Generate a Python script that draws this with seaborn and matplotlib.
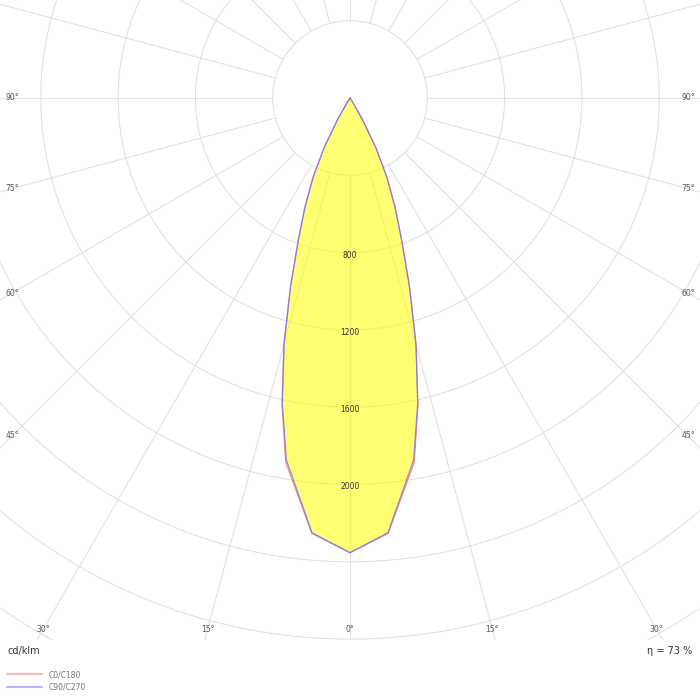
import numpy as np
import pandas as pd
import matplotlib
matplotlib.use("Agg")
import matplotlib.pyplot as plt
import seaborn as sns

# luminous intensity (cd/klm) per gamma angle
gamma = [0, 5, 10, 12.5, 15, 17.5, 20, 22.5, 25, 27.5, 30, 32.5, 35, 45, 60, 75, 90]
c0_c180 = [2353, 2262, 1915, 1625, 1322, 1025, 782, 608, 452, 290, 128, 25, 0, 0, 0, 0, 0]
c90_c270 = [2353, 2258, 1900, 1618, 1318, 1023, 780, 606, 450, 289, 127, 25, 0, 0, 0, 0, 0]

grid_circles = [400, 800, 1200, 1600, 2000, 2400, 2800, 3200, 3600]
radial_labels = [800, 1200, 1600, 2000]
angle_labels = [0, 15, 30, 45, 60, 75, 90]
unit_text = "cd/klm"
eta_text = "η = 73 %"

sns.set_style("white")
plt.rcParams["font.family"] = ["DejaVu Sans"]

W, H = 700, 700
cx, cy = 350, 98          # pole position in pixels
bottom_px = 640           # bottom of the plot area
s = 77.3 / 400            # pixels per cd/klm

fig = plt.figure(figsize=(7, 7), dpi=100)
ax = fig.add_axes([0, (H - bottom_px) / H, 1, bottom_px / H])
ax.set_xlim(-cx / s, (W - cx) / s)
ax.set_ylim(-(bottom_px - cy) / s, cy / s)
ax.axis("off")

grid_col = "#e0e0e0"
t = np.linspace(0, 2 * np.pi, 400)
for r in grid_circles:
    ax.plot(r * np.cos(t), r * np.sin(t), color=grid_col, lw=0.75, zorder=1)
for a in range(0, 360, 15):
    ar = np.radians(a)
    ax.plot([400 * np.sin(ar), 5000 * np.sin(ar)],
            [-400 * np.cos(ar), -5000 * np.cos(ar)],
            color=grid_col, lw=0.75, zorder=1)


def curve(values):
    g = np.radians(np.array(gamma, dtype=float))
    v = np.array(values, dtype=float)
    # left half (C180 / C270) then right half (C0 / C90)
    x = np.concatenate([-v[::-1] * np.sin(g[::-1]), v * np.sin(g)])
    y = np.concatenate([-v[::-1] * np.cos(g[::-1]), -v * np.cos(g)])
    return x, y


rows = []
for name, vals in [("C0/C180", c0_c180), ("C90/C270", c90_c270)]:
    x, y = curve(vals)
    rows.append(pd.DataFrame({"x": x, "y": y, "plane": name}))
df = pd.concat(rows, ignore_index=True)

fx, fy = curve(c0_c180)
ax.fill(fx, fy, color="#ffff00", alpha=0.55, lw=0, zorder=2)

sns.lineplot(data=df, x="x", y="y", hue="plane", sort=False, estimator=None,
             palette={"C0/C180": "#ff7070", "C90/C270": "#7070ff"},
             lw=0.9, alpha=0.8, ax=ax, zorder=3)

for v in radial_labels:
    ax.text(0, -(v + 2.5 / s), str(v), ha="center", va="center",
            fontsize=5.5, color="#333333", zorder=4)

# angle labels where each ray meets the inset frame
for a in angle_labels:
    ar = np.radians(a)
    sides = [1] if a == 0 else [-1, 1]
    for sd in sides:
        cand = []
        if np.sin(ar) > 1e-9:
            cand.append(338 / np.sin(ar))
        if np.cos(ar) > 1e-9:
            cand.append(531 / np.cos(ar))
        tt = min(cand)
        ax.text(sd * tt * np.sin(ar) / s, -tt * np.cos(ar) / s, f"{a}°",
                ha="center", va="center", fontsize=5.5, color="#555555")

handles, labels = ax.get_legend_handles_labels()
ax.get_legend().remove()
leg = fig.legend(handles, labels, loc="upper left",
                 bbox_to_anchor=(7 / W, 1 - 670 / H), frameon=False,
                 fontsize=5.5, handlelength=4.6, handletextpad=0.9,
                 labelspacing=0.45, borderpad=0, borderaxespad=0)
for txt in leg.get_texts():
    txt.set_color("#777777")
for ln in leg.get_lines():
    ln.set_alpha(0.5)
    ln.set_linewidth(1.5)

fig.text(7 / W, 1 - 651 / H, unit_text, ha="left", va="center",
         fontsize=7, color="#333333")
fig.text(692 / W, 1 - 651 / H, eta_text, ha="right", va="center",
         fontsize=7, color="#333333")

fig.savefig("out.png", dpi=100, facecolor="white")
